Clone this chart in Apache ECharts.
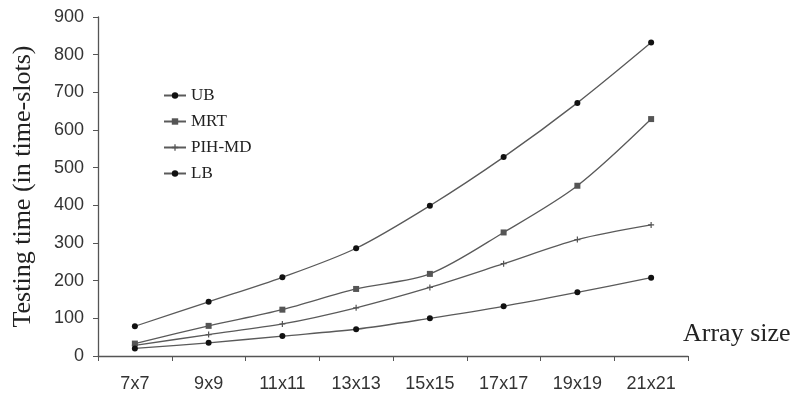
<!DOCTYPE html>
<html><head><meta charset="utf-8">
<script src="https://cdn.jsdelivr.net/npm/echarts@6/dist/echarts.min.js"></script>
<style>html,body{margin:0;padding:0;background:#fff}#c{width:793px;height:396px}</style>
</head><body><div id="c"></div>
<script>
const categories = ['7x7','9x9','11x11','13x13','15x15','17x17','19x19','21x21'];
const ub    = [79, 144, 209, 286, 399, 528, 672, 832];
const mrt   = [33, 80, 123, 178, 218, 328, 452, 629];
const pihmd = [28, 57, 85, 128, 182, 245, 309, 348];
const lb    = [20, 35, 53, 71, 100, 132, 169, 208];
const yTicks = [0, 900, 100];

const chart = echarts.init(document.getElementById('c'));
function s(name, data, symbol, size, color) {
  return {
    name, type: 'line', data, smooth: 0.3, symbol, symbolSize: size,
    lineStyle: { color: '#5a5a5a', width: 1.3 },
    itemStyle: { color: color },
    animation: false
  };
}
chart.setOption({
  animation: false,
  grid: { left: 98, right: 105, top: 17, bottom: 40 },
  legend: {
    orient: 'vertical', left: 158, top: 82, itemGap: 9, itemWidth: 22, itemHeight: 8,
    textStyle: { fontFamily: 'Liberation Serif', fontSize: 17, color: '#222' },
    data: ['UB', 'MRT', 'PIH-MD', 'LB']
  },
  xAxis: {
    type: 'category', data: categories, boundaryGap: true,
    axisLine: { lineStyle: { color: '#555', width: 1.3 } },
    axisTick: { show: true, length: 5, inside: false, lineStyle: { color: '#555' } },
    axisLabel: { fontFamily: 'Liberation Sans', fontSize: 18, color: '#333', margin: 19 }
  },
  yAxis: {
    type: 'value', min: yTicks[0], max: yTicks[1], interval: yTicks[2],
    name: 'Testing time (in time-slots)', nameLocation: 'middle', nameGap: 62,
    nameTextStyle: { fontFamily: 'Liberation Serif', fontSize: 26, color: '#222' },
    axisLine: { show: true, lineStyle: { color: '#555', width: 1.3 } },
    axisTick: { show: true, length: 5, lineStyle: { color: '#555' } },
    splitLine: { show: false },
    axisLabel: { fontFamily: 'Liberation Sans', fontSize: 18, color: '#333', margin: 14 }
  },
  graphic: [{
    type: 'text', left: 683, top: 321,
    style: { text: 'Array size', font: '26px "Liberation Serif"', fill: '#222' }
  }],
  series: [
    s('UB', ub, 'circle', 6, '#111'),
    s('MRT', mrt, 'rect', 6, '#555'),
    s('PIH-MD', pihmd, 'path://M4,0H6V4H10V6H6V10H4V6H0V4H4Z', 6, '#555'),
    s('LB', lb, 'circle', 6, '#111')
  ]
});
</script></body></html>
